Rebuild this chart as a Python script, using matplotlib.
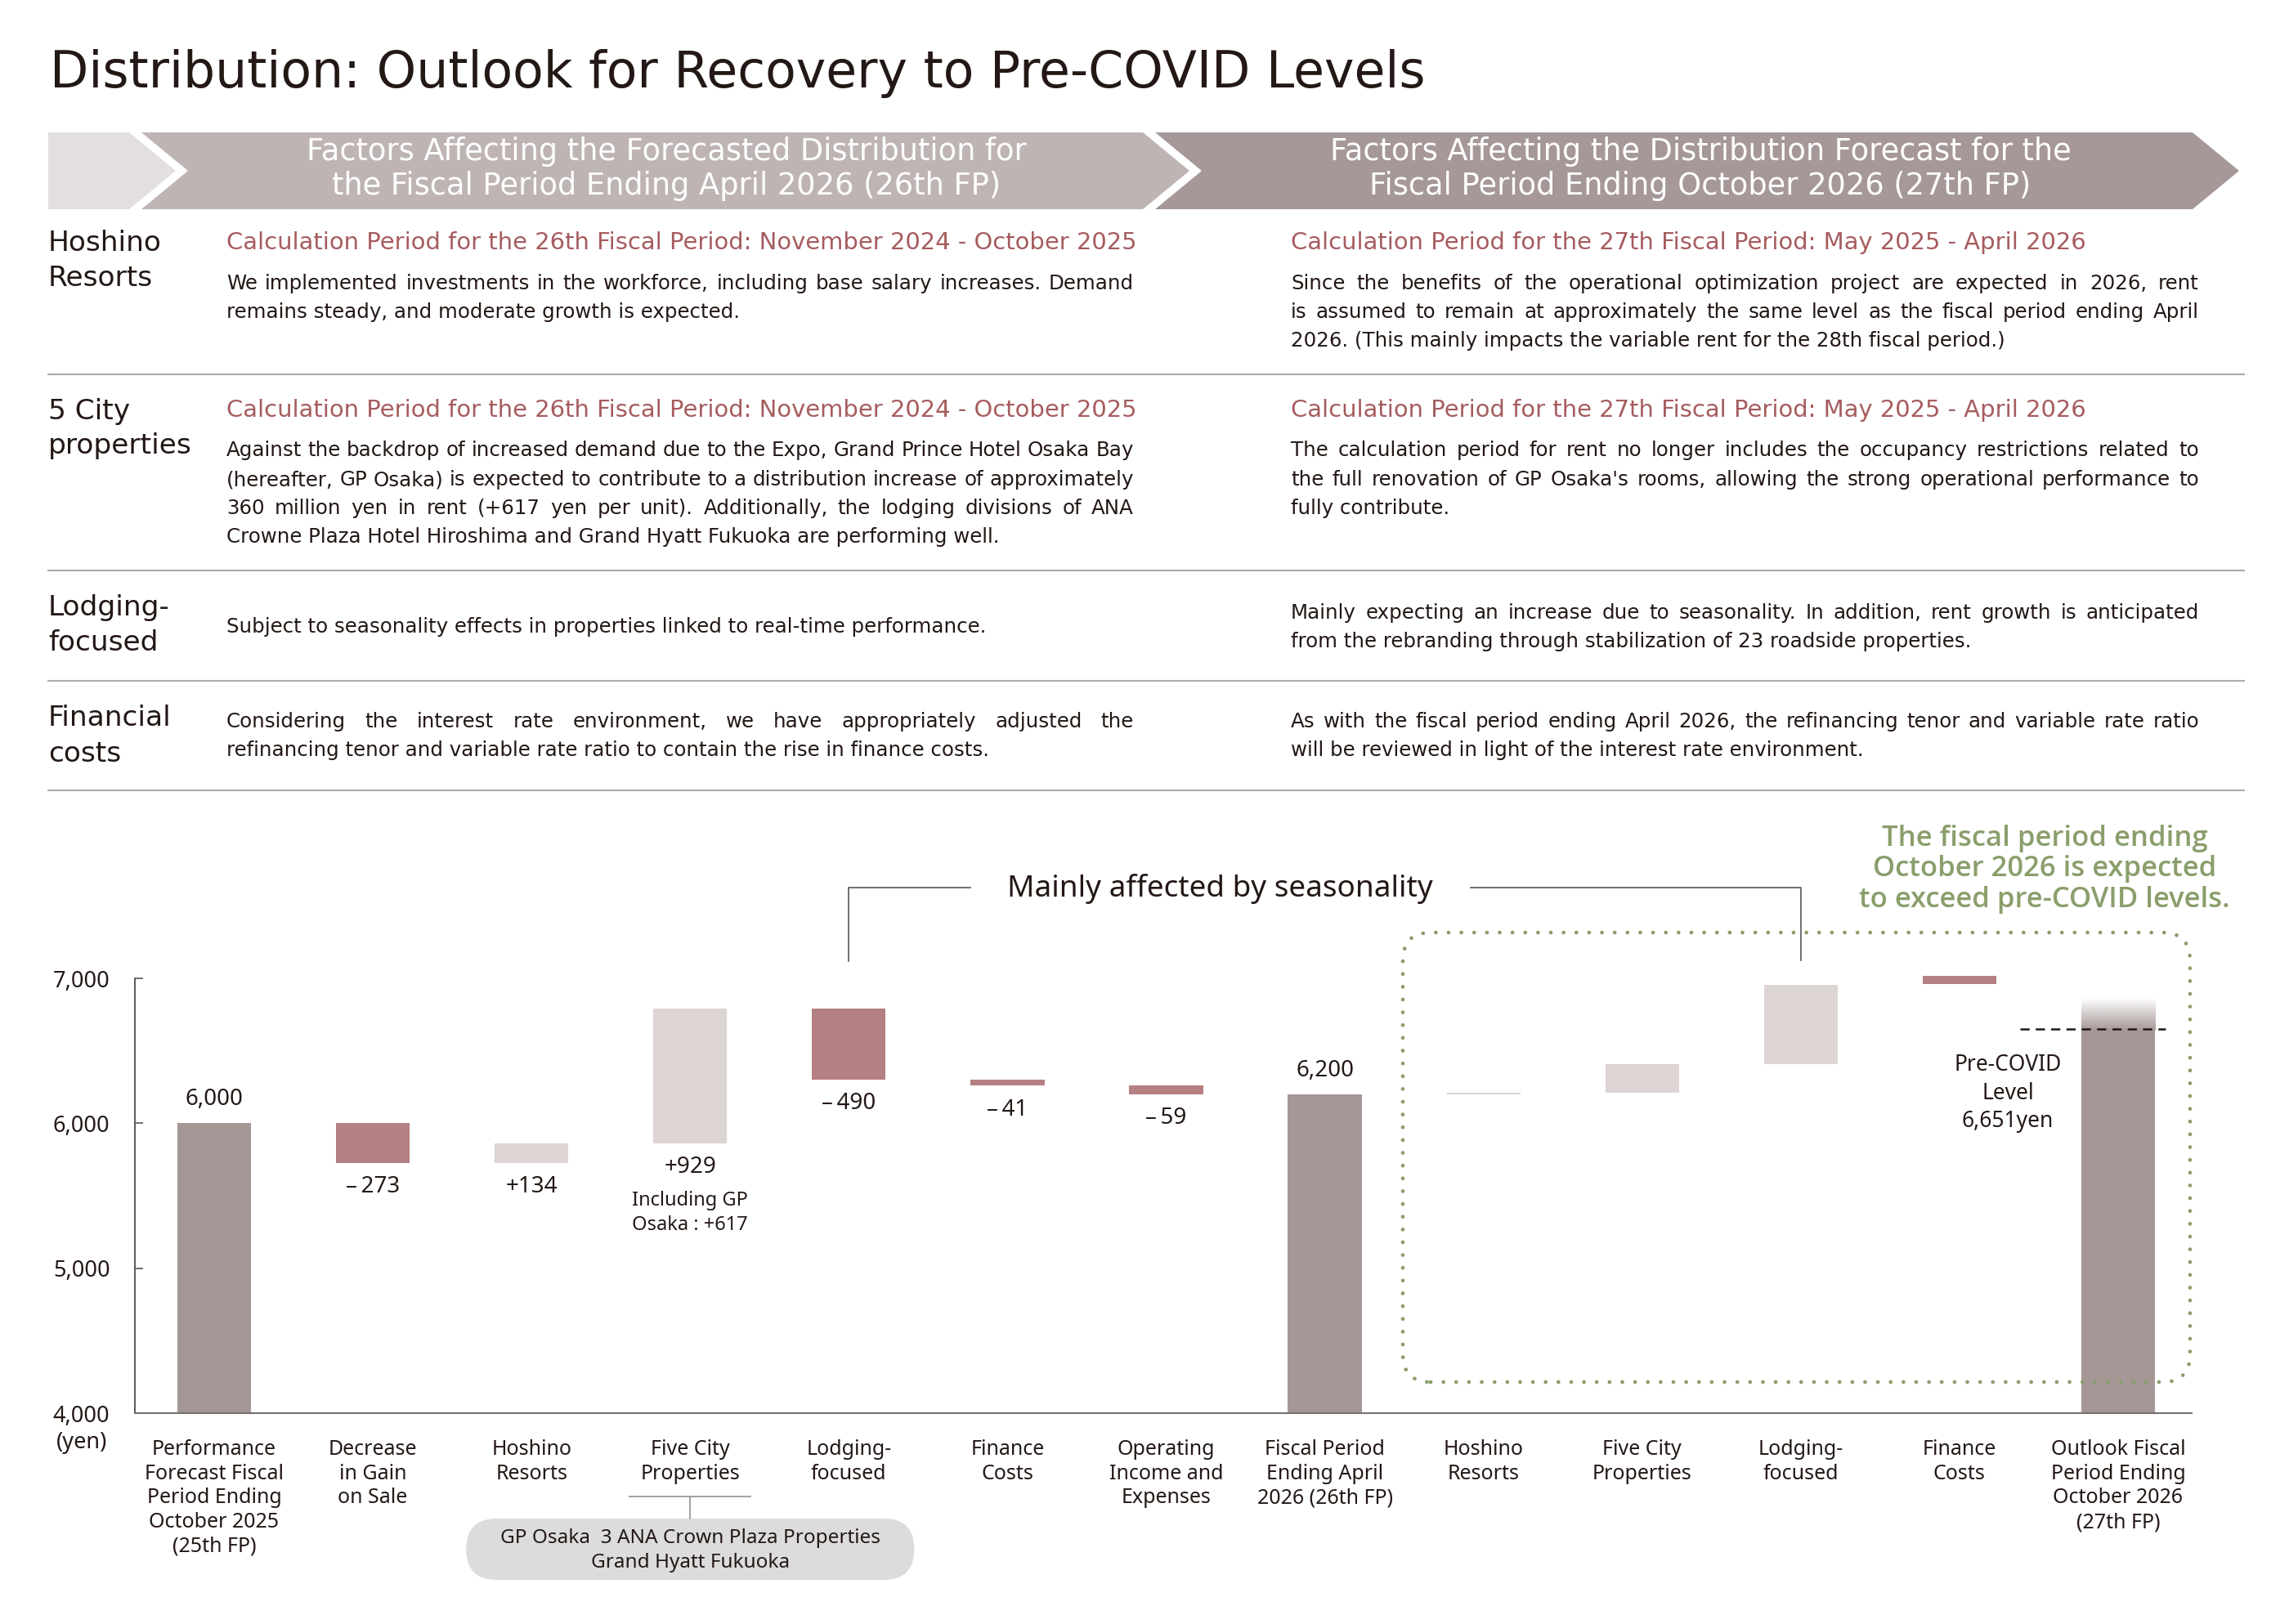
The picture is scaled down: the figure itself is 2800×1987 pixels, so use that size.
import numpy as np
import matplotlib
matplotlib.use("Agg")
import matplotlib.pyplot as plt
from matplotlib.patches import Polygon, FancyBboxPatch
from matplotlib.lines import Line2D
from matplotlib.colors import to_rgb

W, H = 2800, 1987

# ---------------- data ----------------
categories = [
    "Performance\nForecast Fiscal\nPeriod Ending\nOctober 2025\n(25th FP)",
    "Decrease\nin Gain\non Sale",
    "Hoshino\nResorts",
    "Five City\nProperties",
    "Lodging-\nfocused",
    "Finance\nCosts",
    "Operating\nIncome and\nExpenses",
    "Fiscal Period\nEnding April\n2026 (26th FP)",
    "Hoshino\nResorts",
    "Five City\nProperties",
    "Lodging-\nfocused",
    "Finance\nCosts",
    "Outlook Fiscal\nPeriod Ending\nOctober 2026\n(27th FP)",
]
kinds = ["total", "neg", "pos", "pos", "neg", "neg", "neg", "total",
         "pos", "pos", "pos", "neg", "total"]
bar_low = [4000, 5727, 5727, 5861, 6300, 6259, 6200, 4000,
           6200, 6212, 6408, 6958, 4000]
bar_high = [6000, 6000, 5861, 6790, 6790, 6300, 6259, 6200,
            6212, 6408, 6955, 7018, 6640]
value_labels = ["6,000", "\u2013\u2009273", "+134", "+929", "\u2013\u2009490",
                "\u2013\u200941", "\u2013\u200959", "6,200", "", "", "", "", ""]
gp_osaka = 617
outlook_fade_top = 6860
pre_covid = 6651
yticks = [4000, 5000, 6000, 7000]

title = "Distribution: Outlook for Recovery to Pre-COVID Levels"
banner_left = ["Factors Affecting the Forecasted Distribution for",
               "the Fiscal Period Ending April 2026 (26th FP)"]
banner_right = ["Factors Affecting the Distribution Forecast for the",
                "Fiscal Period Ending October 2026 (27th FP)"]
row_labels = [["Hoshino", "Resorts"], ["5 City", "properties"],
              ["Lodging-", "focused"], ["Financial", "costs"]]
head_left = "Calculation Period for the 26th Fiscal Period: November 2024 - October 2025"
head_right = "Calculation Period for the 27th Fiscal Period: May 2025 - April 2026"
body_left = [
    ["We implemented investments in the workforce, including base salary increases. Demand",
     "remains steady, and moderate growth is expected."],
    ["Against the backdrop of increased demand due to the Expo, Grand Prince Hotel Osaka Bay",
     "(hereafter, GP Osaka) is expected to contribute to a distribution increase of approximately",
     "360 million yen in rent (+617 yen per unit). Additionally, the lodging divisions of ANA",
     "Crowne Plaza Hotel Hiroshima and Grand Hyatt Fukuoka are performing well."],
    ["Subject to seasonality effects in properties linked to real-time performance."],
    ["Considering the interest rate environment, we have appropriately adjusted the",
     "refinancing tenor and variable rate ratio to contain the rise in finance costs."],
]
body_right = [
    ["Since the benefits of the operational optimization project are expected in 2026, rent",
     "is assumed to remain at approximately the same level as the fiscal period ending April",
     "2026. (This mainly impacts the variable rent for the 28th fiscal period.)"],
    ["The calculation period for rent no longer includes the occupancy restrictions related to",
     "the full renovation of GP Osaka's rooms, allowing the strong operational performance to",
     "fully contribute."],
    ["Mainly expecting an increase due to seasonality. In addition, rent growth is anticipated",
     "from the rebranding through stabilization of 23 roadside properties."],
    ["As with the fiscal period ending April 2026, the refinancing tenor and variable rate ratio",
     "will be reviewed in light of the interest rate environment."],
]
green_note = ["The fiscal period ending", "October 2026 is expected",
              "to exceed pre-COVID levels."]
pill_lines = ["GP Osaka  3 ANA Crown Plaza Properties", "Grand Hyatt Fukuoka"]

# ---------------- style ----------------
plt.rcParams['font.family'] = ['Noto Sans', 'DejaVu Sans']
INK = "#231815"
RED = "#a65c5f"
GREEN = "#8a9e6b"
bar_colors = {"total": "#a59796", "neg": "#b58081", "pos": "#ddd4d4"}
TBL = dict(family=['DejaVu Sans'])
NOTE = dict(family=['Open Sans', 'Noto Sans'], weight='semibold')

fig = plt.figure(figsize=(W / 100, H / 100), dpi=100)
fig.patch.set_facecolor("white")
renderer = fig.canvas.get_renderer()


def P(x, y):
    return x / W, 1 - y / H


def text_width(s, size, **kw):
    t = fig.text(0, 0, s, fontsize=size, **kw)
    w = t.get_window_extent(renderer).width
    t.remove()
    return w


def fit(s, width, **kw):
    return 20 * width / text_width(s, 20, **kw)


def hline(x0, x1, y, **kw):
    fig.add_artist(Line2D([x0 / W, x1 / W], [1 - y / H, 1 - y / H],
                          transform=fig.transFigure, **kw))


def seg(pts, **kw):
    fig.add_artist(Line2D([p[0] / W for p in pts], [1 - p[1] / H for p in pts],
                          transform=fig.transFigure, **kw))


def put_line(x0, x1, y, s, size, last, **kw):
    if last:
        fig.text(x0 / W, 1 - y / H, s, fontsize=size, ha='left', va='center', **kw)
        return
    words = s.split(' ')
    widths = [text_width(w, size, **kw) for w in words]
    gap = (x1 - x0 - sum(widths)) / (len(words) - 1)
    x = x0
    for w, wd in zip(words, widths):
        fig.text(x / W, 1 - y / H, w, fontsize=size, ha='left', va='center', **kw)
        x += wd + gap


# ---------------- title ----------------
fig.text(61 / W, 1 - 107 / H, title, fontsize=fit(title, 1680, **TBL),
         color=INK, va='baseline', ha='left', **TBL)

# ---------------- banner ----------------
top, bot, mid, d = 162, 256, 209, 57
shapes = [
    ([(59, top), (158, top), (158 + d, mid), (158, bot), (59, bot)], "#e4dfdf"),
    ([(173, top), (1398, top), (1398 + d, mid), (1398, bot), (173, bot), (173 + d, mid)], "#bfb4b4"),
    ([(1413, top), (2682, top), (2682 + d, mid), (2682, bot), (1413, bot), (1413 + d, mid)], "#a69898"),
]
for pts, c in shapes:
    fig.add_artist(Polygon([P(*p) for p in pts], closed=True, transform=fig.transFigure,
                           fc=c, ec='none'))
bsize = fit(banner_left[0], 879, **TBL)
for line, y in zip(banner_left, [186, 227]):
    fig.text(815 / W, 1 - y / H, line, fontsize=bsize, color="white", ha='center', va='center', **TBL)
for line, y in zip(banner_right, [186, 227]):
    fig.text(2080 / W, 1 - y / H, line, fontsize=bsize, color="white", ha='center', va='center', **TBL)

# ---------------- table ----------------
label_y = [(298, 340), (503, 545), (744, 787), (878, 922)]
head_y = [297, 502, None, None]
left_y = [[347, 382], [551, 587, 622, 657], [767], [883, 918]]
right_y = [[347, 382, 417], [551, 587, 622], [750, 785], [883, 918]]
sep_y = [458, 698, 833, 967]

lsize = fit("Hoshino", 139, **TBL)
hsize = fit(head_left, 1110, **TBL)
tsize = fit(body_left[1][1], 1110, **TBL)
LX0, LX1, RX0, RX1 = 277, 1387, 1579, 2690

for r in range(4):
    for line, y in zip(row_labels[r], label_y[r]):
        fig.text(59 / W, 1 - y / H, line, fontsize=lsize, color=INK, ha='left', va='center', **TBL)
    if head_y[r] is not None:
        fig.text(LX0 / W, 1 - head_y[r] / H, head_left, fontsize=hsize, color=RED,
                 ha='left', va='center', **TBL)
        fig.text(RX0 / W, 1 - head_y[r] / H, head_right, fontsize=hsize, color=RED,
                 ha='left', va='center', **TBL)
    for k, (line, y) in enumerate(zip(body_left[r], left_y[r])):
        put_line(LX0, LX1, y, line, tsize, k == len(body_left[r]) - 1, color=INK, **TBL)
    for k, (line, y) in enumerate(zip(body_right[r], right_y[r])):
        put_line(RX0, RX1, y, line, tsize, k == len(body_right[r]) - 1, color=INK, **TBL)
    hline(59, 2745, sep_y[r], color="#aeaaaa", lw=1.5)

# ---------------- waterfall chart ----------------
ax = fig.add_axes([165 / W, 1 - 1729 / H, (2681 - 165) / W, (1729 - 1197) / H])
x = np.arange(len(categories))
bw = 0.465
low = np.array(bar_low)
high = np.array(bar_high)
ax.bar(x, high - low, bottom=low, width=bw, color=[bar_colors[k] for k in kinds],
       zorder=2, clip_on=False)

# fading top of the outlook bar
grad = np.zeros((200, 1, 4))
grad[..., :3] = to_rgb(bar_colors["total"])
grad[:, 0, 3] = np.linspace(1, 0, 200)
ax.imshow(grad, extent=(x[-1] - bw / 2, x[-1] + bw / 2, bar_high[-1], outlook_fade_top),
          origin='lower', aspect='auto', zorder=2, interpolation='bilinear')

ax.set_xlim(-0.5, 12.464)
ax.set_ylim(4000, 7000)
for s in ['top', 'right']:
    ax.spines[s].set_visible(False)
ax.spines['left'].set_color('#595757')
ax.spines['left'].set_linewidth(1.4)
ax.spines['bottom'].set_color('#757171')
ax.spines['bottom'].set_linewidth(1.5)
ax.set_yticks(yticks)
ax.set_yticklabels([f"{v:,}" for v in yticks])
ax.tick_params(axis='y', direction='in', length=7, width=1.2, color='#595757',
               pad=22, labelsize=19.5, labelcolor=INK)
ax.set_xticks(x)
ax.set_xticklabels(categories, fontsize=18, linespacing=1.25, color=INK)
ax.tick_params(axis='x', length=0, pad=23)
ax.annotate("(yen)", (0, 0), xycoords='axes fraction', xytext=(-47, -26),
            textcoords='offset points', fontsize=19.5, color=INK, ha='center', va='center')

# value labels
for i, lab in enumerate(value_labels):
    if not lab:
        continue
    if kinds[i] == "total":
        ax.annotate(lab, (x[i], bar_high[i]), xytext=(0, 21), textcoords='offset points',
                    ha='center', va='center', fontsize=20, color=INK)
    else:
        ax.annotate(lab, (x[i], bar_low[i]), xytext=(0, -21), textcoords='offset points',
                    ha='center', va='center', fontsize=20, color=INK)
ax.annotate(f"Including GP\nOsaka : +{gp_osaka}", (x[3], bar_low[3]), xytext=(0, -42),
            textcoords='offset points', ha='center', va='top', fontsize=17,
            color=INK, linespacing=1.3)

# pre-COVID level
ax.plot([x[-1] - 0.62, x[-1] + 0.30], [pre_covid, pre_covid], color=INK, lw=1.8,
        ls=(0, (4.5, 3)), zorder=3, clip_on=False)
ax.annotate(f"Pre-COVID\nLevel\n{pre_covid:,}yen", (x[-1] - 0.695, pre_covid),
            xytext=(0, -22), textcoords='offset points', ha='center', va='top',
            fontsize=19, color=INK, linespacing=1.3)


def bar_px(i):
    return ax.transData.transform((i, 4000))[0]


# "Mainly affected by seasonality" bracket
xl, xr = bar_px(4), bar_px(10)
seg([(xl, 1176), (xl, 1086), (1187, 1086)], color="#555555", lw=1.2)
seg([(1799, 1086), (xr, 1086), (xr, 1175)], color="#555555", lw=1.2)
ms = "Mainly affected by seasonality"
fig.text(1492 / W, 1 - 1088 / H, ms, fontsize=fit(ms, 520), color=INK, ha='center', va='center')

# dotted outlook box and note
box = FancyBboxPatch(P(1716, 1691), (2679 - 1716) / W, (1691 - 1141) / H,
                     boxstyle=f"round,pad=0,rounding_size={34 / W}", mutation_aspect=W / H,
                     transform=fig.transFigure, fc='none', ec=GREEN, lw=3.4,
                     ls=(0, (0.01, 3.3)), capstyle='round')
fig.add_artist(box)
gsize = fit(green_note[2], 454, **NOTE)
for line, y in zip(green_note, [1026, 1063, 1101]):
    fig.text(2501 / W, 1 - y / H, line, fontsize=gsize, color=GREEN,
             ha='center', va='center', **NOTE)

# five city breakdown pill
xc = bar_px(3)
hline(770, 918, 1831, color="#9a9a9a", lw=1.3)
seg([(xc, 1831), (xc, 1858)], color="#9a9a9a", lw=1.3)
pill = FancyBboxPatch(P(xc - 274, 1933), 548 / W, 75 / H,
                      boxstyle=f"round,pad=0,rounding_size={37 / W}", mutation_aspect=W / H,
                      transform=fig.transFigure, fc="#dcdcdc", ec='none')
fig.add_artist(pill)
for line, y in zip(pill_lines, [1882, 1912]):
    fig.text(xc / W, 1 - y / H, line, fontsize=17.5, color=INK, ha='center', va='center')

fig.savefig("out.png", dpi=100)
